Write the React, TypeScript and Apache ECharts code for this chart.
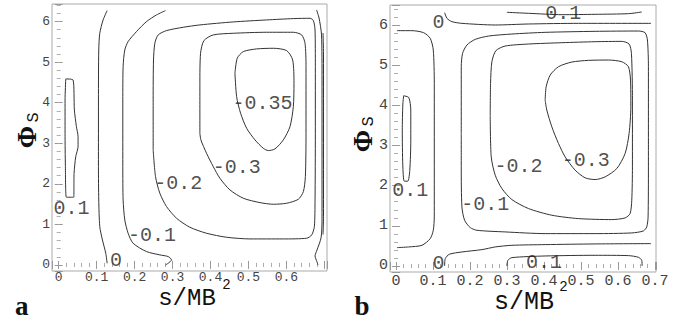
import React, { useEffect, useRef } from "react";
import * as echarts from "echarts";

// ---------- Panel a: contour lines [s/MB^2, Phi_s] ----------
const aPlus01Loop: number[][] = [
  [0.0185, 4.587], [0.0378, 4.562], [0.0413, 3.823], [0.0466, 3.412], [0.051, 3.165],
  [0.051, 2.918], [0.0449, 2.672], [0.0405, 2.261], [0.0396, 1.669], [0.0202, 1.669],
  [0.0176, 2.425], [0.0167, 3.247], [0.0167, 4.069], [0.0185, 4.587],
];
const aZeroLeft: number[][] = [
  [0.1275, 6.272], [0.117, 6.042], [0.1082, 5.713], [0.1055, 5.302], [0.1047, 4.069],
  [0.1047, 2.425], [0.1055, 1.603], [0.1082, 0.945], [0.1152, 0.617], [0.124, 0.288], [0.1275, 0.041],
];
const aMinus01: number[][] = [
  [0.2814, 6.272], [0.2577, 6.165], [0.2313, 6.001], [0.2049, 5.754], [0.1829, 5.508],
  [0.1741, 5.302], [0.1697, 4.891], [0.1689, 4.069], [0.1689, 2.425], [0.1697, 1.603],
  [0.1741, 1.11], [0.1829, 0.781], [0.1961, 0.534], [0.2313, 0.329], [0.2665, 0.247],
  [0.2885, 0.206], [0.2973, 0.123], [0.2885, 0.041], [0.2814, 0.0],
];
const aMinus02: number[][] = [
  [0.2489, 2.836], [0.2489, 4.069], [0.2498, 5.055], [0.2533, 5.466], [0.2621, 5.672],
  [0.2841, 5.779], [0.3281, 5.861], [0.372, 5.919], [0.46, 5.993], [0.5479, 6.042],
  [0.6183, 6.075], [0.6623, 6.083], [0.6711, 6.026], [0.6755, 5.795], [0.6763, 4.891],
  [0.6763, 3.247], [0.6755, 1.603], [0.6737, 0.945], [0.6667, 0.74], [0.6535, 0.658],
  [0.5919, 0.641], [0.504, 0.641], [0.4424, 0.682], [0.3896, 0.781], [0.3456, 0.929],
  [0.3105, 1.151], [0.2841, 1.439], [0.2665, 1.767], [0.2551, 2.178], [0.2489, 2.836],
];
const aMinus03: number[][] = [
  [0.372, 3.247], [0.372, 4.48], [0.3738, 5.22], [0.3826, 5.532], [0.4072, 5.672],
  [0.46, 5.713], [0.5479, 5.738], [0.6183, 5.738], [0.6403, 5.672], [0.6491, 5.466],
  [0.6517, 4.891], [0.6517, 3.247], [0.65, 2.178], [0.6447, 1.808], [0.6315, 1.619],
  [0.6007, 1.521], [0.5655, 1.496], [0.5303, 1.537], [0.4864, 1.644], [0.4512, 1.85],
  [0.4248, 2.137], [0.4072, 2.425], [0.3896, 2.754], [0.3747, 3.083], [0.372, 3.247],
];
const aMinus035: number[][] = [
  [0.4644, 4.727], [0.4705, 5.097], [0.4864, 5.261], [0.5215, 5.327], [0.5655, 5.343],
  [0.6007, 5.286], [0.6165, 5.055], [0.62, 4.48], [0.6183, 3.905], [0.6095, 3.411],
  [0.5919, 3.083], [0.5699, 2.861], [0.5523, 2.82], [0.5391, 2.877], [0.5172, 3.083],
  [0.4952, 3.37], [0.4793, 3.74], [0.4688, 4.151], [0.4644, 4.727],
];
const aRightOuter: number[][] = [
  [0.6794, 6.289], [0.686, 6.091], [0.6926, 5.672], [0.6939, 4.562], [0.6939, 2.836],
  [0.6939, 1.11], [0.6913, 0.666], [0.6807, 0.37], [0.6755, 0.222], [0.6807, 0.074], [0.6834, 0.0],
];
const aRightInner: number[][] = [
  [0.6965, 5.72], [0.6978, 5.2], [0.6978, 3.0], [0.6978, 1.2], [0.6965, 0.75],
];
const aLabels: [number, number, string][] = [
  [0.0334, 1.398, "0.1"], [0.151, 0.115, "0"], [0.246, 0.715, "-0.1"],
  [0.315, 2.006, "-0.2"], [0.469, 2.4, "-0.3"], [0.537, 3.987, "-0.35"],
];

// ---------- Panel b ----------
const bTopPlus01: number[][] = [
  [0.2994, 6.318], [0.3579, 6.293], [0.4479, 6.259], [0.538, 6.268], [0.628, 6.284], [0.664, 6.326],
];
const bTopZero: number[][] = [
  [0.1312, 6.309], [0.1374, 6.168], [0.1509, 6.085], [0.1779, 6.043], [0.2679, 6.002],
  [0.3579, 6.027], [0.4929, 6.043], [0.6891, 6.043],
];
const bLeftZero: number[][] = [
  [0.0023, 5.861], [0.0428, 5.861], [0.0743, 5.811], [0.0923, 5.669], [0.1005, 5.378],
  [0.1032, 4.547], [0.1032, 2.469], [0.1032, 1.222], [0.1005, 0.889], [0.0923, 0.682],
  [0.0698, 0.515], [0.0338, 0.474], [0.0023, 0.457],
];
const bPlus01Loop: number[][] = [
  [0.0203, 4.239], [0.0343, 4.195], [0.0397, 3.883], [0.0397, 3.135], [0.037, 2.387],
  [0.0316, 2.112], [0.0221, 2.112], [0.0181, 2.511], [0.0167, 3.384], [0.0181, 4.007], [0.0203, 4.239],
];
const bMinus01: number[][] = [
  [0.1761, 3.3], [0.1761, 4.963], [0.1797, 5.295], [0.1914, 5.503], [0.2139, 5.644],
  [0.2499, 5.727], [0.3129, 5.777], [0.4029, 5.819], [0.5379, 5.844], [0.655, 5.852],
  [0.673, 5.81], [0.6793, 5.628], [0.682, 4.963], [0.682, 2.469], [0.6811, 1.222],
  [0.6775, 0.973], [0.6685, 0.873], [0.637, 0.823], [0.538, 0.806], [0.4029, 0.806],
  [0.2949, 0.848], [0.2184, 0.889], [0.2004, 0.956], [0.1851, 1.139], [0.1779, 1.471],
  [0.1761, 2.469], [0.1761, 3.3],
];
const bMinus02: number[][] = [
  [0.2544, 3.716], [0.2553, 4.547], [0.2589, 5.087], [0.2697, 5.362], [0.2949, 5.478],
  [0.3579, 5.528], [0.4479, 5.561], [0.538, 5.586], [0.61, 5.594], [0.6298, 5.528],
  [0.6361, 5.295], [0.6388, 4.131], [0.6388, 2.469], [0.637, 1.638], [0.6325, 1.305],
  [0.619, 1.197], [0.583, 1.155], [0.4929, 1.18], [0.4209, 1.264], [0.3579, 1.43],
  [0.3129, 1.654], [0.2859, 1.929], [0.2679, 2.261], [0.2571, 2.718], [0.2544, 3.716],
];
const bMinus03: number[][] = [
  [0.4029, 4.131], [0.4056, 4.464], [0.4165, 4.755], [0.4389, 4.963], [0.4749, 5.079],
  [0.52, 5.121], [0.574, 5.129], [0.61, 5.087], [0.628, 4.963], [0.6336, 4.63],
  [0.6345, 3.965], [0.6298, 3.3], [0.619, 2.801], [0.5965, 2.427], [0.565, 2.219],
  [0.538, 2.153], [0.511, 2.195], [0.4839, 2.386], [0.4569, 2.718], [0.4389, 3.051],
  [0.4209, 3.466], [0.4074, 3.882], [0.4029, 4.131],
];
const bBottomZero: number[][] = [
  [0.1311, 0.0], [0.1329, 0.183], [0.1437, 0.291], [0.1779, 0.349], [0.2319, 0.407],
  [0.2679, 0.474], [0.3129, 0.515], [0.4029, 0.532], [0.538, 0.549], [0.6891, 0.557],
];
const bBottomPlus01: number[][] = [
  [0.2994, 0.0], [0.3021, 0.141], [0.3129, 0.208], [0.4029, 0.249], [0.538, 0.266],
  [0.628, 0.258], [0.655, 0.216], [0.664, 0.141], [0.6649, 0.0],
];
const bLabels: [number, number, string][] = [
  [0.1149, 6.06, "0"], [0.452, 6.3, "0.1"], [0.0383, 1.887, "0.1"], [0.2408, 1.538, "-0.1"],
  [0.3309, 2.469, "-0.2"], [0.5127, 2.635, "-0.3"], [0.1149, 0.06, "0"], [0.4, 0.08, "0.1"],
];

const aLines = [aPlus01Loop, aZeroLeft, aMinus01, aMinus02, aMinus03, aMinus035, aRightOuter, aRightInner];
const bLines = [bTopPlus01, bTopZero, bLeftZero, bPlus01Loop, bMinus01, bMinus02, bMinus03, bBottomZero, bBottomPlus01];

const MONO = '"Liberation Mono", "DejaVu Sans Mono", monospace';
const SERIF = '"Liberation Serif", "DejaVu Serif", serif';

function xFmt(hideAbove: number) {
  return (v: number) => {
    const r = Math.round(v * 10) / 10;
    if (Math.abs(v - r) > 1e-6 || r > hideAbove + 1e-9 || r < -1e-9) return "";
    return r === 0 ? "0" : r.toFixed(1);
  };
}
function yFmt(v: number) {
  const r = Math.round(v);
  if (Math.abs(v - r) > 1e-6 || r < 0) return "";
  return String(r);
}

function makeX(grid: number, min: number, max: number, pos: "top" | "bottom", fs: number, margin: number, hideAbove: number) {
  return {
    type: "value", gridIndex: grid, min, max, position: pos,
    minInterval: 0.1, maxInterval: 0.1, splitNumber: 7,
    axisLine: { show: false },
    axisTick: { show: true, inside: true, length: 4, lineStyle: { color: "#999", width: 1 } },
    minorTick: { show: true, splitNumber: 5, length: 2, lineStyle: { color: "#aaa", width: 1 } },
    splitLine: { show: false },
    axisLabel: {
      show: pos === "bottom", fontFamily: MONO, fontSize: fs, lineHeight: fs - 2, color: "#444", margin,
      formatter: xFmt(hideAbove), hideOverlap: false,
    },
  };
}
function makeY(grid: number, min: number, max: number, pos: "left" | "right", fs: number, margin: number) {
  return {
    type: "value", gridIndex: grid, min, max, position: pos,
    minInterval: 1, maxInterval: 1, splitNumber: 6,
    axisLine: { show: false },
    axisTick: { show: true, inside: true, length: 4, lineStyle: { color: "#999", width: 1 } },
    minorTick: { show: true, splitNumber: 5, length: 2, lineStyle: { color: "#aaa", width: 1 } },
    splitLine: { show: false },
    axisLabel: { show: pos === "left", fontFamily: MONO, fontSize: fs, color: "#444", margin, formatter: yFmt },
  };
}

function lineSeries(data: number[][], idx: number) {
  return {
    type: "line", xAxisIndex: idx, yAxisIndex: idx, data, showSymbol: false, symbol: "none",
    smooth: 0.25, silent: true, lineStyle: { color: "#333", width: 1 }, z: 2,
  };
}
function labelSeries(data: [number, number, string][], idx: number) {
  return {
    type: "scatter", xAxisIndex: idx, yAxisIndex: idx, symbolSize: 0, silent: true, z: 3,
    data: data.map((d) => ({ value: [d[0], d[1]], name: d[2] })),
    label: { show: true, position: "inside", formatter: "{b}", fontFamily: MONO, fontSize: 20, lineHeight: 16, color: "#222" },
  };
}

function txt(x: number, y: number, text: string, fontSize: number, family: string, weight: string, rotation = 0, lh = 0) {
  return {
    type: "text", x, y, rotation, silent: true,
    style: {
      text, fontSize, fontFamily: family, fontWeight: weight, fill: "#111", align: "center", verticalAlign: "middle",
      lineHeight: lh || fontSize,
    },
  };
}

export default function App() {
  const ref = useRef<HTMLDivElement>(null);
  useEffect(() => {
    if (!ref.current) return;
    const chart = echarts.init(ref.current, undefined, { renderer: "svg" });
    chart.setOption({
      animation: false,
      backgroundColor: "#fff",
      grid: [
        { left: 52, top: 4, width: 275, height: 267, show: true, borderColor: "#aaa", borderWidth: 1, backgroundColor: "transparent" },
        { left: 390, top: 5, width: 266, height: 267, show: true, borderColor: "#aaa", borderWidth: 1, backgroundColor: "transparent" },
      ],
      xAxis: [
        makeX(0, -0.0177, 0.707, "bottom", 13, 1, 0.6),
        makeX(0, -0.0177, 0.707, "top", 13, 1, 0.6),
        makeX(1, -0.0165, 0.7025, "bottom", 15, 3, 0.7),
        makeX(1, -0.0165, 0.7025, "top", 15, 3, 0.7),
      ],
      yAxis: [
        makeY(0, -0.15, 6.435, "left", 13, 2),
        makeY(0, -0.15, 6.435, "right", 13, 2),
        makeY(1, -0.15, 6.5, "left", 15, 2),
        makeY(1, -0.15, 6.5, "right", 15, 2),
      ],
      series: [
        ...aLines.map((d) => lineSeries(d, 0)),
        labelSeries(aLabels, 0),
        ...bLines.map((d) => lineSeries(d, 2)),
        labelSeries(bLabels, 2),
      ],
      graphic: [
        txt(21.7, 306, "a", 27, SERIF, "bold"),
        txt(362, 306, "b", 27, SERIF, "bold"),
        txt(187, 298.5, "s/MB", 24, MONO, "normal", 0, 16),
        txt(226.5, 284.5, "2", 14, MONO, "normal", 0, 10),
        txt(524, 302.5, "s/MB", 25, MONO, "normal", 0, 16),
        txt(563.5, 287, "2", 14, MONO, "normal", 0, 10),
        txt(27, 137, "Φ", 27, SERIF, "bold", Math.PI / 2),
        txt(33, 117.5, "S", 17, MONO, "normal", Math.PI / 2),
        txt(363, 141, "Φ", 27, SERIF, "bold", Math.PI / 2),
        txt(368, 121.5, "S", 17, MONO, "normal", Math.PI / 2),
      ],
    });
    return () => chart.dispose();
  }, []);
  return (
    <div
      ref={ref}
      style={{ position: "fixed", left: 0, top: 0, width: 691, height: 324, background: "#fff" }}
    />
  );
}
